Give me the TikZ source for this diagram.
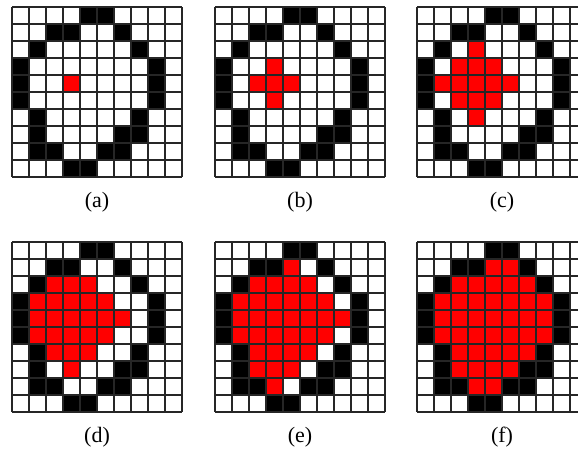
\documentclass[tikz,border=0pt]{standalone}
\usepackage{fontspec}
\setmainfont{Liberation Serif}
\usepackage{tikz}
\usetikzlibrary{positioning}

% one 10x10 panel: #1,#2 top left corner, #3 red cells (row/col), #4 caption name, #5 caption
\newcommand{\gridpanel}[5]{%
  \begin{scope}[shift={(#1,#2)}]
    \fill[white] (0,0) rectangle (170,170);
    \foreach \r/\c in {0/4,0/5,1/2,1/3,1/6,2/1,2/7,3/0,3/8,4/0,4/8,5/0,5/8,
                       6/1,6/7,7/1,7/6,7/7,8/1,8/2,8/5,8/6,9/3,9/4}
      \fill[blackcell] (\c*17,\r*17) rectangle ++(17,17);
    \foreach \r/\c in {#3}
      \fill[redcell] (\c*17,\r*17) rectangle ++(17,17);
    \foreach \k in {0,...,10} {
      \draw[gridline] (\k*17,0) -- (\k*17,170);
      \draw[gridline] (0,\k*17) -- (170,\k*17);
    }
    \node[caption] (#4) at (85,195) {#5};
  \end{scope}}

\begin{document}
\begin{tikzpicture}[
  x=1pt, y=-1pt,
  blackcell/.style={black},
  redcell/.style={red},
  gridline/.style={draw=black!85, line width=1.6pt},
  caption/.style={font=\fontsize{22}{26}\selectfont, inner sep=0pt},
]
  \useasboundingbox (0,0) rectangle (578,453);
  \clip (0,0) rectangle (578,453);

  % Top row
  \gridpanel{12}{7}{4/3}{capa}{(a)}
  \gridpanel{215}{7}{3/3,4/2,4/3,4/4,5/3}{capb}{(b)}
  \gridpanel{417}{7}{2/3,3/2,3/3,3/4,4/1,4/2,4/3,4/4,4/5,5/2,5/3,5/4,6/3}{capc}{(c)}

  % Bottom row
  \gridpanel{12}{242}{2/2,2/3,2/4,3/1,3/2,3/3,3/4,3/5,4/1,4/2,4/3,4/4,4/5,4/6,
    5/1,5/2,5/3,5/4,5/5,6/2,6/3,6/4,7/3}{capd}{(d)}
  \gridpanel{215}{242}{1/4,2/2,2/3,2/4,2/5,3/1,3/2,3/3,3/4,3/5,3/6,
    4/1,4/2,4/3,4/4,4/5,4/6,4/7,5/1,5/2,5/3,5/4,5/5,5/6,
    6/2,6/3,6/4,6/5,7/2,7/3,7/4,8/3}{cape}{(e)}
  \gridpanel{417}{242}{1/4,1/5,2/2,2/3,2/4,2/5,2/6,3/1,3/2,3/3,3/4,3/5,3/6,3/7,
    4/1,4/2,4/3,4/4,4/5,4/6,4/7,5/1,5/2,5/3,5/4,5/5,5/6,5/7,
    6/2,6/3,6/4,6/5,6/6,7/2,7/3,7/4,7/5,8/3,8/4}{capf}{(f)}
\end{tikzpicture}
\end{document}
